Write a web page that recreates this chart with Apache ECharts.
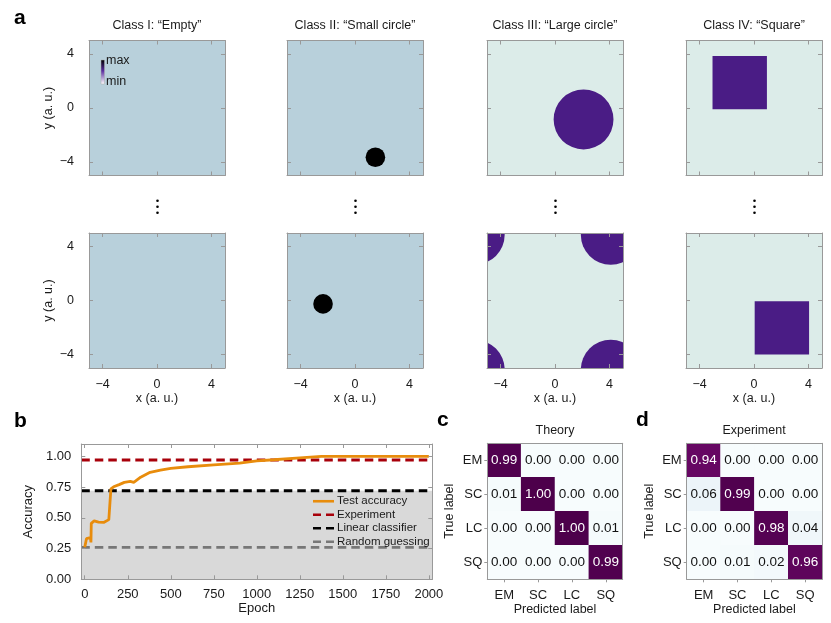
<!DOCTYPE html>
<html>
<head>
<meta charset="utf-8">
<script src="https://cdn.jsdelivr.net/npm/echarts@6/dist/echarts.min.js"></script>
<style>
  html, body { margin: 0; background: #fff; }
  #chart { width: 831px; height: 623px; }
</style>
</head>
<body>
<div id="chart"></div>
<script>
// ---- data ----
const CLASS_TITLES = ['Class I: \u201cEmpty\u201d', 'Class II: \u201cSmall circle\u201d', 'Class III: \u201cLarge circle\u201d', 'Class IV: \u201cSquare\u201d'];
const IMAGE_TICKS = [-4, 0, 4];
// one entry per row (top sample, bottom sample)
const SMALL_CIRCLES = [[1.5, -3.65, 0.72], [-2.35, -0.25, 0.72]];   // cx, cy, r
const LARGE_CIRCLES = [[2.1, -0.85, 2.2], [4.1, 4.87, 2.2]];        // cx, cy, r (periodic box)
const SQUARES = [[-3.05, -0.1, 0.95, 3.85], [0.05, -4.0, 4.05, -0.05]]; // x0, y0, x1, y1

const EPOCHS =   [0, 10, 20, 33, 36, 38, 55, 80, 110, 140, 148, 152, 168, 200, 230, 265, 285, 325, 380, 440, 500, 600, 750, 900, 1000, 1100, 1250, 1375, 1500, 2000];
const TEST_ACC = [0.26, 0.33, 0.34, 0.34, 0.30, 0.455, 0.475, 0.465, 0.462, 0.485, 0.49, 0.735, 0.752, 0.77, 0.788, 0.796, 0.788, 0.83, 0.87, 0.888, 0.902, 0.915, 0.93, 0.945, 0.962, 0.972, 0.988, 1.0, 1.0, 1.0];
const EXPERIMENT_ACC = 0.97;
const LINEAR_ACC = 0.72;
const RANDOM_ACC = 0.26;
const EPOCH_TICKS = [0, 250, 500, 750, 1000, 1250, 1500, 1750, 2000];
const ACC_TICKS = [0, 0.25, 0.5, 0.75, 1];

const LABELS = ['EM', 'SC', 'LC', 'SQ'];
const THEORY = [
  [0.99, 0.00, 0.00, 0.00],
  [0.01, 1.00, 0.00, 0.00],
  [0.00, 0.00, 1.00, 0.01],
  [0.00, 0.00, 0.00, 0.99]
];
const EXPERIMENT = [
  [0.94, 0.00, 0.00, 0.00],
  [0.06, 0.99, 0.00, 0.00],
  [0.00, 0.00, 0.98, 0.04],
  [0.00, 0.01, 0.02, 0.96]
];

// ---- style ----
const FONT = "'Liberation Sans', Arial, sans-serif";
const TXT = '#1a1a1a';
const FRAME = '#999';
const BG_BLUE = '#b8d0db';
const BG_MINT = '#dcece9';
const PURPLE = '#4a1c85';
const BUPU = ['#f7fcfd', '#e0ecf4', '#bfd3e6', '#9ebcda', '#8c96c6', '#8c6bb1', '#88419d', '#810f7c', '#4d004b'];

const IMG_LEFT = [89, 287, 487, 686];
const IMG_TOP = [40.5, 233];
const IMG_SIZE = 136;

const chart = echarts.init(document.getElementById('chart'));
const grids = [], xAxes = [], yAxes = [], series = [], graphics = [];

const minusFmt = v => (v < 0 ? '\u2212' + Math.abs(v) : String(v));

function axisBase(gridIndex, position, opts) {
  return Object.assign({
    gridIndex, position, z: 5,
    axisLine: { show: true, onZero: false, lineStyle: { color: FRAME, width: 1 } },
    splitLine: { show: false },
    nameLocation: 'middle',
    nameTextStyle: { fontFamily: FONT, fontSize: 12.5, color: TXT }
  }, opts);
}

function valueAxis(gi, position, min, max, ticks, label, name, nameGap) {
  return axisBase(gi, position, {
    type: 'value', min, max,
    axisTick: { show: true, inside: true, length: 4, customValues: ticks, lineStyle: { color: FRAME } },
    axisLabel: Object.assign({ show: !!label, customValues: ticks, fontFamily: FONT, color: TXT }, label || {}),
    name: name || '', nameGap: nameGap || 0
  });
}

// ---- panel a: images ----
function circleSeries(axisIdx, circle, color) {
  const data = [];
  const [cx, cy, r] = circle;
  for (const dx of [-10, 0, 10]) for (const dy of [-10, 0, 10]) data.push([cx + dx, cy + dy, r]);
  return {
    type: 'custom', xAxisIndex: axisIdx, yAxisIndex: axisIdx, clip: true, silent: true, z: 2, data,
    renderItem: (p, api) => {
      const c = api.coord([api.value(0), api.value(1)]);
      const s = api.size([api.value(2), api.value(2)]);
      return { type: 'circle', shape: { cx: c[0], cy: c[1], r: s[0] }, style: { fill: color } };
    }
  };
}
function squareSeries(axisIdx, sq, color) {
  return {
    type: 'custom', xAxisIndex: axisIdx, yAxisIndex: axisIdx, clip: true, silent: true, z: 2, data: [sq],
    renderItem: (p, api) => {
      const a = api.coord([api.value(0), api.value(3)]);
      const b = api.coord([api.value(2), api.value(1)]);
      return { type: 'rect', shape: { x: a[0], y: a[1], width: b[0] - a[0], height: b[1] - a[1] }, style: { fill: color } };
    }
  };
}

for (let r = 0; r < 2; r++) {
  for (let c = 0; c < 4; c++) {
    const gi = grids.length;
    grids.push({
      left: IMG_LEFT[c], top: IMG_TOP[r], width: IMG_SIZE, height: IMG_SIZE - 1,
      show: true, borderWidth: 0, backgroundColor: c < 2 ? BG_BLUE : BG_MINT
    });
    xAxes.push(valueAxis(gi, 'bottom', -5, 5, IMAGE_TICKS,
      r === 1 ? { formatter: minusFmt, fontSize: 12.5, margin: 10 } : null,
      r === 1 ? 'x (a. u.)' : '', 23));
    xAxes.push(valueAxis(gi, 'top', -5, 5, IMAGE_TICKS, null));
    yAxes.push(valueAxis(gi, 'left', -5, 5, IMAGE_TICKS,
      c === 0 ? { formatter: minusFmt, fontSize: 12.5, margin: 15 } : null,
      c === 0 ? 'y (a. u.)' : '', 34));
    yAxes.push(valueAxis(gi, 'right', -5, 5, IMAGE_TICKS, null));
    const ai = gi * 2;
    if (c === 1) series.push(circleSeries(ai, SMALL_CIRCLES[r], '#000'));
    if (c === 2) series.push(circleSeries(ai, LARGE_CIRCLES[r], PURPLE));
    if (c === 3) series.push(squareSeries(ai, SQUARES[r], PURPLE));
  }
}

// ---- panel b: accuracy ----
const gb = grids.length;
grids.push({ left: 81.3, top: 444, width: 351, height: 135.3 });
const XMIN = -20, XMAX = 2020;
xAxes.push(valueAxis(gb, 'bottom', XMIN, XMAX, EPOCH_TICKS, { fontSize: 13, margin: 9, formatter: v => String(v) }, 'Epoch', 23));
xAxes.push(valueAxis(gb, 'top', XMIN, XMAX, EPOCH_TICKS, null));
yAxes.push(valueAxis(gb, 'left', 0, 1.1, ACC_TICKS, { fontSize: 13, margin: 10, formatter: v => v.toFixed(2) }, 'Accuracy', 46));
yAxes.push(valueAxis(gb, 'right', 0, 1.1, ACC_TICKS, null));
for (const ax of [xAxes[xAxes.length - 2], yAxes[yAxes.length - 2]]) ax.nameTextStyle.fontSize = 13;

const bi = gb * 2;
const flat = v => [[XMIN, v], [XMAX, v]];
const DASH = [8.5, 5];
series.push(
  { name: 'Linear classifier', type: 'line', xAxisIndex: bi, yAxisIndex: bi, data: flat(LINEAR_ACC), symbol: 'none', z: 1,
    lineStyle: { color: '#000', width: 2.8, type: DASH }, itemStyle: { color: '#000' },
    areaStyle: { color: '#d9d9d9', opacity: 1 } },
  { name: 'Random guessing', type: 'line', xAxisIndex: bi, yAxisIndex: bi, data: flat(RANDOM_ACC), symbol: 'none', z: 3,
    lineStyle: { color: '#777', width: 2.8, type: DASH }, itemStyle: { color: '#777' } },
  { name: 'Experiment', type: 'line', xAxisIndex: bi, yAxisIndex: bi, data: flat(EXPERIMENT_ACC), symbol: 'none', z: 3,
    lineStyle: { color: '#a8000a', width: 2.8, type: DASH }, itemStyle: { color: '#a8000a' } },
  { name: 'Test accuracy', type: 'line', xAxisIndex: bi, yAxisIndex: bi, symbol: 'none', z: 4,
    data: EPOCHS.map((e, i) => [e, TEST_ACC[i]]),
    lineStyle: { color: '#e88c0c', width: 2.8 }, itemStyle: { color: '#e88c0c' } }
);

// ---- panels c, d: confusion matrices ----
function matrixData(m) {
  const out = [];
  m.forEach((row, i) => row.forEach((v, j) => out.push({ value: [j, i, v], label: { color: v > 0.5 ? '#fff' : '#111' } })));
  return out;
}
const visualMaps = [];
[[487.3, THEORY], [686.7, EXPERIMENT]].forEach(([left, m]) => {
  const gi = grids.length;
  grids.push({ left, top: 443.3, width: 135.4, height: 136 });
  const cat = (position, show, extra) => axisBase(gi, position, Object.assign({
    type: 'category', data: LABELS,
    axisTick: { show, alignWithLabel: true, length: 3, lineStyle: { color: FRAME } },
    axisLabel: { show, fontFamily: FONT, fontSize: 13, color: TXT }
  }, extra));
  xAxes.push(cat('bottom', true, { name: 'Predicted label', nameGap: 23.5, axisLabel: { show: true, fontFamily: FONT, fontSize: 13, color: TXT, margin: 10 } }));
  xAxes.push(cat('top', false, {}));
  yAxes.push(cat('left', true, { inverse: true, name: 'True label', nameGap: 31, axisLabel: { show: true, fontFamily: FONT, fontSize: 13, color: TXT, margin: 5 } }));
  yAxes.push(cat('right', false, { inverse: true }));
  visualMaps.push({ show: false, seriesIndex: series.length, min: 0, max: 1, inRange: { color: BUPU } });
  series.push({
    type: 'heatmap', xAxisIndex: gi * 2, yAxisIndex: gi * 2, data: matrixData(m), z: 2,
    label: { show: true, fontFamily: FONT, fontSize: 13.5, formatter: p => p.value[2].toFixed(2) },
    emphasis: { disabled: true }
  });
});

// ---- free text ----
const text = (x, y, t, size, extra) => ({
  type: 'text', x, y, silent: true,
  style: Object.assign({ text: t, fontFamily: FONT, fontSize: size, fill: TXT, textAlign: 'center', textVerticalAlign: 'middle' }, extra || {})
});
graphics.push(text(14, 18, 'a', 21, { fontWeight: 'bold', textAlign: 'left', fill: '#000' }));
graphics.push(text(14, 421, 'b', 21, { fontWeight: 'bold', textAlign: 'left', fill: '#000' }));
graphics.push(text(437, 420, 'c', 21, { fontWeight: 'bold', textAlign: 'left', fill: '#000' }));
graphics.push(text(636, 420, 'd', 21, { fontWeight: 'bold', textAlign: 'left', fill: '#000' }));
CLASS_TITLES.forEach((t, c) => graphics.push(text(IMG_LEFT[c] + IMG_SIZE / 2, 25.5, t, 12.5)));
graphics.push(text(555, 430.5, 'Theory', 12.5));
graphics.push(text(754, 430.5, 'Experiment', 12.5));
// vertical ellipsis between rows
IMG_LEFT.forEach(l => [200.7, 206.7, 212.7].forEach(y => graphics.push({
  type: 'circle', silent: true, shape: { cx: l + IMG_SIZE / 2 + 0.5, cy: y, r: 1.3 }, style: { fill: '#000' }
})));
// colour bar key
graphics.push({
  type: 'rect', silent: true, z: 100, shape: { x: 101, y: 60, width: 3.5, height: 24 },
  style: { stroke: '#aaa', lineWidth: 0.5, fill: new echarts.graphic.LinearGradient(0, 0, 0, 1, [
    { offset: 0, color: '#000' }, { offset: 0.45, color: '#5a2ca0' }, { offset: 1, color: '#fff' }]) }
});
graphics.push(Object.assign(text(106, 61, 'max', 12.5, { textAlign: 'left' }), { z: 100 }));
graphics.push(Object.assign(text(106, 82, 'min', 12.5, { textAlign: 'left' }), { z: 100 }));

const dashIcon = 'path://M0,0h8v2.6h-8zM13,0h8v2.6h-8z';
chart.setOption({
  animation: false,
  grid: grids,
  xAxis: xAxes,
  yAxis: yAxes,
  visualMap: visualMaps,
  legend: {
    left: 313, top: 495, padding: 0, orient: 'vertical', itemWidth: 21, itemHeight: 2.6, itemGap: 1,
    textStyle: { fontFamily: FONT, fontSize: 11.5, color: TXT, lineHeight: 12.5, padding: [0, 0, 0, -2] },
    data: [
      { name: 'Test accuracy', icon: 'path://M0,0h21v2.6h-21z' },
      { name: 'Experiment', icon: dashIcon },
      { name: 'Linear classifier', icon: dashIcon },
      { name: 'Random guessing', icon: dashIcon }
    ]
  },
  series,
  graphic: graphics
});
</script>
</body>
</html>
